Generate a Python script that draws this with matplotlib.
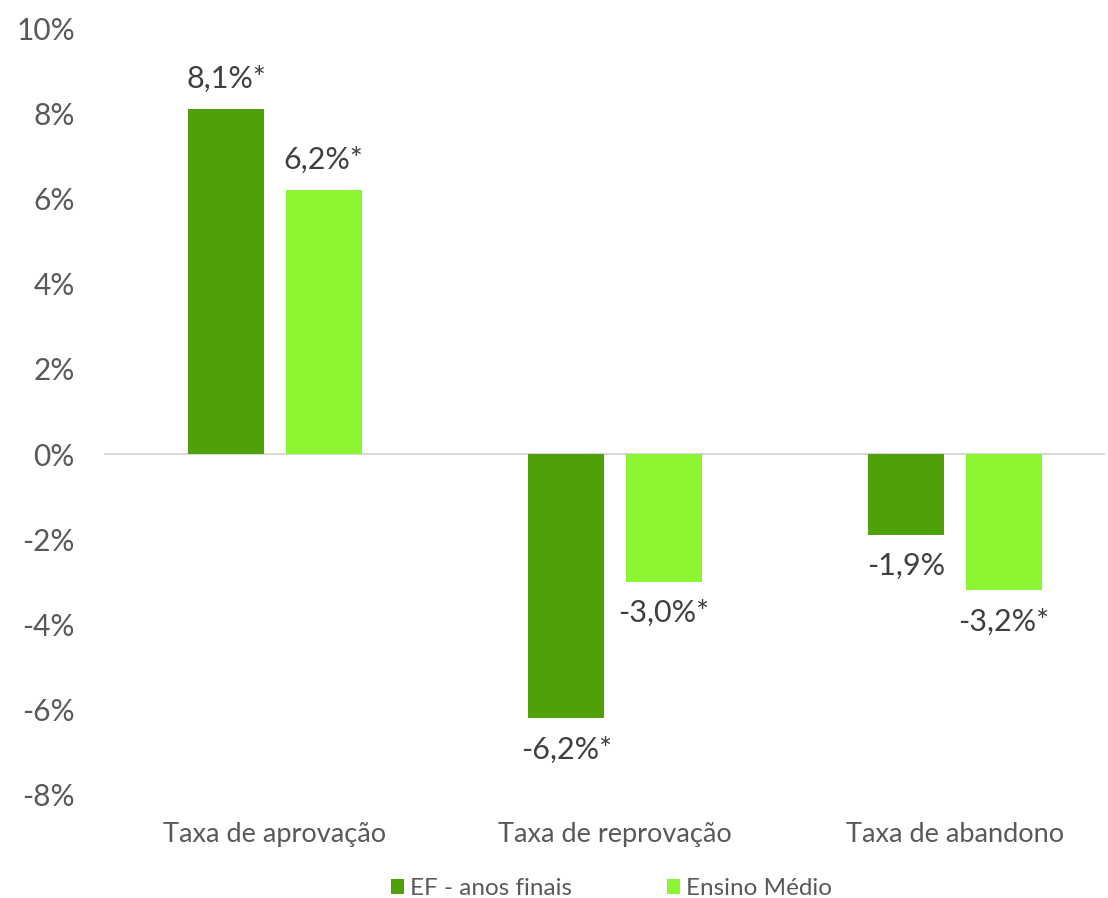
import matplotlib
matplotlib.use('Agg')
import matplotlib.pyplot as plt
import numpy as np

categorias = ['Taxa de aprovação', 'Taxa de reprovação', 'Taxa de abandono']
ef_finais = [8.1, -6.2, -1.9]
ensino_medio = [6.2, -3.0, -3.2]
rotulos_ef = ['8,1%*', '-6,2%*', '-1,9%']
rotulos_em = ['6,2%*', '-3,0%*', '-3,2%*']
series = ['EF - anos finais', 'Ensino Médio']

plt.rcParams['font.family'] = ['Lato', 'DejaVu Sans']

fig = plt.figure(figsize=(11.08, 8.98), dpi=100)
ax = fig.add_axes([104/1108, 1 - 795/898, (1105-104)/1108, (795-28)/898])

x = np.arange(len(categorias))
w = 0.224
off = 0.143
cor_ef = '#50A00A'
cor_em = '#8CF532'

b1 = ax.bar(x - off, ef_finais, w, color=cor_ef, label=series[0], zorder=3)
b2 = ax.bar(x + off, ensino_medio, w, color=cor_em, label=series[1], zorder=3)

for barras, vals, rots in [(b1, ef_finais, rotulos_ef), (b2, ensino_medio, rotulos_em)]:
    for b, v, r in zip(barras, vals, rots):
        dy = 30 if v >= 0 else -31
        ax.annotate(r, (b.get_x() + b.get_width()/2, v), xytext=(0, dy),
                    textcoords='offset pixels', ha='center', va='center',
                    fontsize=22, color='#404040')

ax.axhline(0, color='#D9D9D9', lw=1.5, zorder=2)
ax.set_ylim(-8, 10)
ax.set_xlim((104-275)/340, (1105-275)/340)
ax.set_yticks(np.arange(-8, 11, 2))
ax.set_yticklabels([f'{t}%' for t in range(-8, 11, 2)], fontsize=21.5, color='#595959')
ax.set_xticks([])
for s in ax.spines.values():
    s.set_visible(False)
ax.tick_params(axis='y', length=0, pad=21)

# rótulos de categoria abaixo do eixo
for xi, c in zip(x, categorias):
    ax.text(xi, -8.93, c, ha='center', va='center', fontsize=19.5, color='#595959')

ax.legend(loc='center', bbox_to_anchor=(0.507, -0.122), ncol=2, frameon=False,
          fontsize=17.5, labelcolor='#595959', handlelength=0.55, handleheight=0.55,
          handletextpad=0.25, columnspacing=3.9)

fig.savefig('out.png', dpi=100)
